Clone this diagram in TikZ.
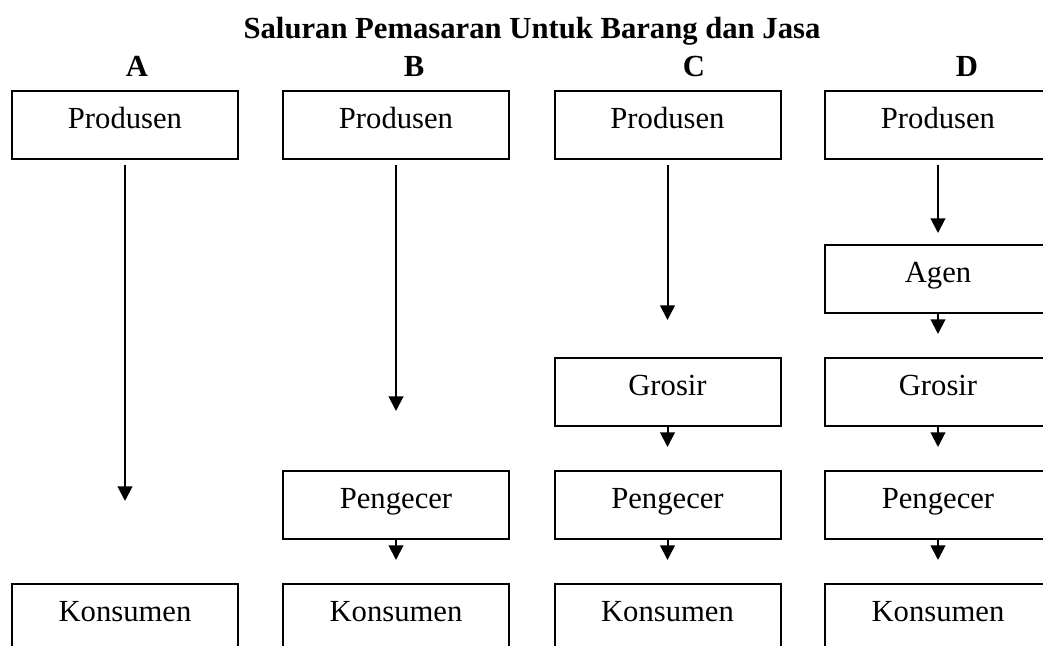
\documentclass[tikz,border=0pt]{standalone}
\usepackage{fontspec}
\setmainfont{Liberation Serif}
\usetikzlibrary{arrows.meta}
\begin{document}
\begin{tikzpicture}[x=0.75pt,y=-0.75pt,
  stagebox/.style={draw, line width=1.5pt, minimum width=169.5pt, minimum height=51pt,
    inner sep=0pt, anchor=north, text height=7.5pt, text depth=3pt,
    font=\fontsize{23pt}{26pt}\selectfont},
  flow/.style={line width=1.5pt, -{Triangle[width=11pt,length=11pt]}},
  heading/.style={font=\fontsize{23pt}{26pt}\selectfont\bfseries, anchor=base, inner sep=0pt}]
\useasboundingbox (0,0) rectangle (1043,646);

% title and column letters
\node[heading] (title) at (532,38) {Saluran Pemasaran Untuk Barang dan Jasa};
\node[heading] (lA) at (137,76) {A};
\node[heading] (lB) at (414,76) {B};
\node[heading] (lC) at (694,76) {C};
\node[heading] (lD) at (967,76) {D};

% channel A
\node[stagebox] (pA) at (125,90) {Produsen};
\node[stagebox] (kA) at (125,583) {Konsumen};

% channel B
\node[stagebox] (pB) at (396,90) {Produsen};
\node[stagebox] (ecB) at (396,470) {Pengecer};
\node[stagebox] (kB) at (396,583) {Konsumen};

% channel C
\node[stagebox] (pC) at (667.5,90) {Produsen};
\node[stagebox] (gC) at (667.5,357) {Grosir};
\node[stagebox] (ecC) at (667.5,470) {Pengecer};
\node[stagebox] (kC) at (667.5,583) {Konsumen};

% channel D
\node[stagebox] (pD) at (938,90) {Produsen};
\node[stagebox] (aD) at (938,244) {Agen};
\node[stagebox] (gD) at (938,357) {Grosir};
\node[stagebox] (ecD) at (938,470) {Pengecer};
\node[stagebox] (kD) at (938,583) {Konsumen};

% long arrows from the producers
\draw[flow, shorten <=3.75pt, shorten >=61.5pt] (pA.south) -- (kA.north);
\draw[flow, shorten <=3.75pt, shorten >=44.25pt] (pB.south) -- (ecB.north);
\draw[flow, shorten <=3.75pt, shorten >=27.75pt] (pC.south) -- (gC.north);
\draw[flow, shorten <=3.75pt, shorten >=8.25pt] (pD.south) -- (aD.north);

% short arrows between successive stages
\draw[flow, shorten >=17.25pt] (ecB.south) -- (kB.north);
\draw[flow, shorten >=17.25pt] (gC.south) -- (ecC.north);
\draw[flow, shorten >=17.25pt] (ecC.south) -- (kC.north);
\draw[flow, shorten >=17.25pt] (aD.south) -- (gD.north);
\draw[flow, shorten >=17.25pt] (gD.south) -- (ecD.north);
\draw[flow, shorten >=17.25pt] (ecD.south) -- (kD.north);
\end{tikzpicture}
\end{document}
